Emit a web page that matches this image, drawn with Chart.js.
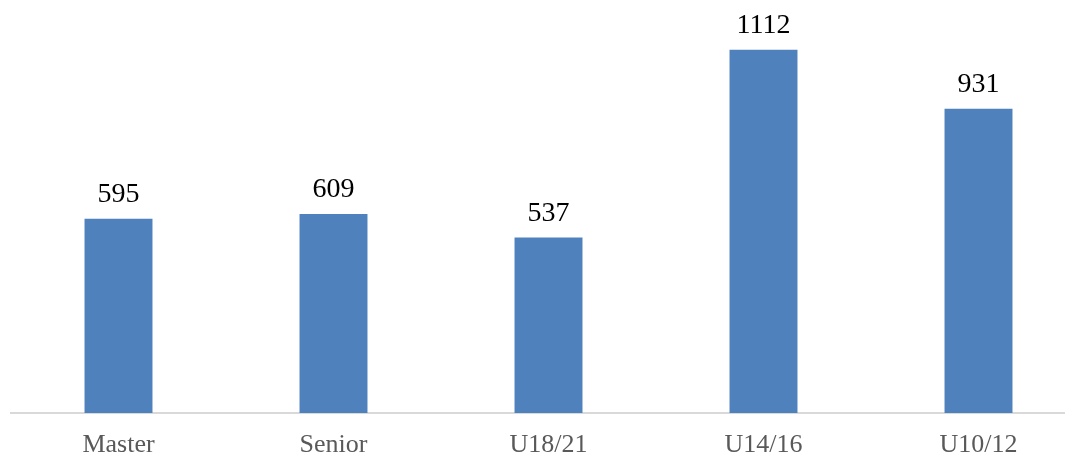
<!DOCTYPE html>
<html>
<head>
<meta charset="utf-8">
<script src="https://cdn.jsdelivr.net/npm/chart.js@4/dist/chart.umd.min.js"></script>
<style>
  html, body { margin: 0; padding: 0; background: #fff; overflow: hidden; }
  #wrap { position: absolute; left: 0; top: 0; width: 1090px; height: 455px; }
</style>
</head>
<body>
<div id="wrap"><canvas id="chart"></canvas></div>
<script>
const categories = ["Master", "Senior", "U18/21", "U14/16", "U10/12"];
const values = [595, 609, 537, 1112, 931];

// value labels above each bar
const barLabels = {
  id: "barLabels",
  afterDatasetsDraw(chart) {
    const ctx = chart.ctx;
    const meta = chart.getDatasetMeta(0);
    ctx.save();
    ctx.font = "28px 'Liberation Serif', serif";
    ctx.fillStyle = "#000";
    ctx.textAlign = "center";
    ctx.textBaseline = "alphabetic";
    meta.data.forEach((bar, i) => {
      ctx.fillText(String(values[i]), bar.x, bar.y - 17);
    });
    ctx.restore();
  }
};

new Chart(document.getElementById("chart"), {
  type: "bar",
  data: {
    labels: categories,
    datasets: [{
      data: values,
      backgroundColor: "#4F81BD",
      categoryPercentage: 1,
      barPercentage: 0.316
    }]
  },
  options: {
    responsive: true,
    maintainAspectRatio: false,
    animation: false,
    layout: { padding: { left: 11, right: 4, top: 21, bottom: 0 } },
    plugins: { legend: { display: false }, tooltip: { enabled: false } },
    scales: {
      x: {
        grid: { display: false, drawTicks: false },
        border: { display: true, color: "#d9d9d9", width: 2 },
        ticks: {
          color: "#595959",
          padding: 19,
          font: { family: "'Liberation Serif', serif", size: 26, lineHeight: 1.0 }
        },
        afterFit(scale) { scale.height = 42; }
      },
      y: {
        display: false,
        min: 0,
        max: 1200
      }
    }
  },
  plugins: [barLabels]
});
</script>
</body>
</html>
